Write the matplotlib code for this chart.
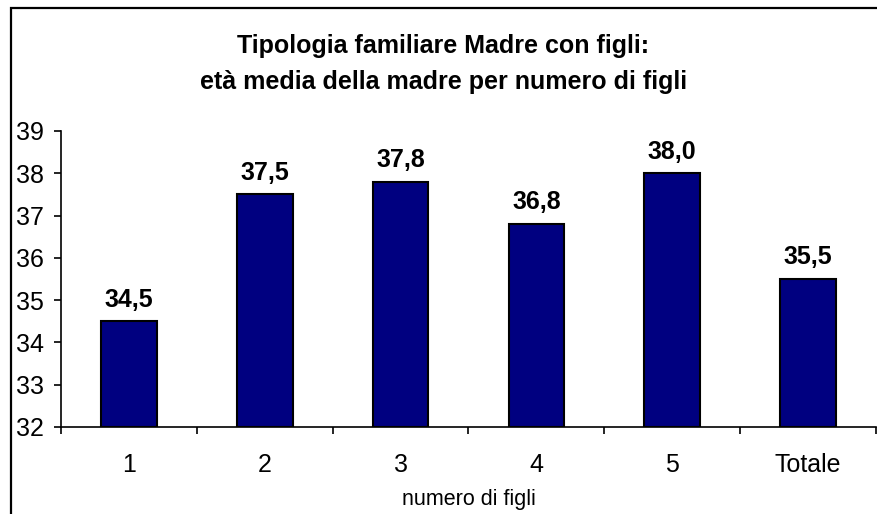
import matplotlib
matplotlib.use("Agg")
import matplotlib.pyplot as plt
from matplotlib.patches import Rectangle

categories = ["1", "2", "3", "4", "5", "Totale"]
values = [34.5, 37.5, 37.8, 36.8, 38.0, 35.5]
labels = ["34,5", "37,5", "37,8", "36,8", "38,0", "35,5"]
yticks = [32, 33, 34, 35, 36, 37, 38, 39]

plt.rcParams['font.family'] = ['Liberation Sans', 'DejaVu Sans']

W, H = 877, 514
fig = plt.figure(figsize=(W / 100, H / 100), dpi=100)
ax = fig.add_axes([61 / W, 1 - 427 / H, 815 / W, 296 / H])

x = list(range(len(categories)))
ax.bar(x, [v - 32 for v in values], bottom=32, width=0.41,
       color="#000080", edgecolor="black", linewidth=1.5, zorder=2)
for xi, v, lab in zip(x, values, labels):
    ax.annotate(lab, (xi, v), xytext=(0, 7), textcoords="offset points",
                ha="center", va="bottom", fontsize=18, fontweight="bold")

ax.set_xlim(-0.5, len(categories) - 0.5)
ax.set_ylim(32, 39)
ax.set_yticks(yticks)
ax.set_yticklabels([str(t) for t in yticks], fontsize=18)
ax.set_xticks(x)
ax.set_xticklabels(categories, fontsize=18)
ax.set_xticks([i - 0.5 for i in range(len(categories) + 1)], minor=True)
ax.tick_params(axis="x", which="major", length=0, pad=19)
ax.tick_params(axis="x", which="minor", length=5, width=1.2, direction="out")
ax.tick_params(axis="y", length=5, width=1.2, direction="out", pad=7)
for s in ["top", "right"]:
    ax.spines[s].set_visible(False)
for s in ["left", "bottom"]:
    ax.spines[s].set_linewidth(1.2)
ax.set_xlabel("numero di figli", fontsize=15.5, labelpad=8)

fig.text(0.5 + 5 / W, 1 - 46 / H, "Tipologia familiare Madre con figli:",
         ha="center", va="center", fontsize=18, fontweight="bold")
fig.text(0.5 + 5 / W, 1 - 82 / H, "età media della madre per numero di figli",
         ha="center", va="center", fontsize=18, fontweight="bold")

fig.patches.append(Rectangle((10.5 / W, -0.05), 1.2, 1 - 7.5 / H + 0.05,
                             transform=fig.transFigure, fill=False,
                             edgecolor="black", linewidth=1.6, zorder=10))

fig.savefig("out.png", dpi=100)
